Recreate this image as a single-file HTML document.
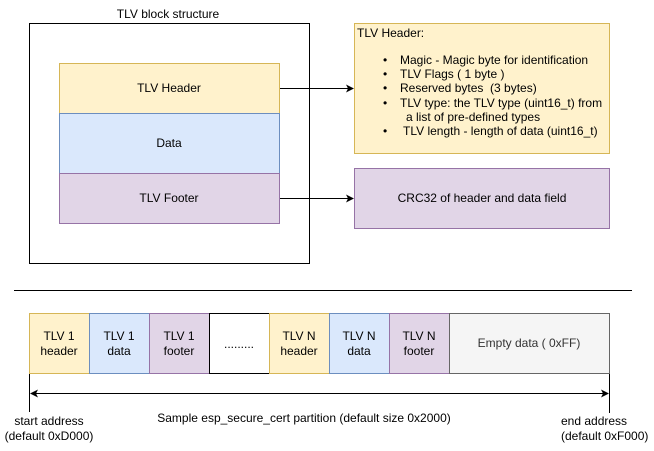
<!DOCTYPE html>
<html><head><meta charset="utf-8"><style>
html,body{margin:0;padding:0;background:#fff;}
svg{display:block;font-family:"Liberation Sans",Arial,sans-serif;font-size:12px;}
</style></head><body>
<svg width="654" height="451" viewBox="0 0 654 451" xmlns="http://www.w3.org/2000/svg">
<defs><marker id="a" markerWidth="8" markerHeight="8" refX="7" refY="4" orient="auto" markerUnits="userSpaceOnUse"><path d="M0,0 L8,4 L0,8 L2,4 Z" fill="#000"/></marker>
<marker id="b" markerWidth="8" markerHeight="8" refX="1" refY="4" orient="auto" markerUnits="userSpaceOnUse"><path d="M8,0 L0,4 L8,8 L6,4 Z" fill="#000"/></marker></defs>
<text x="168" y="18" text-anchor="middle">TLV block structure</text>
<rect x="29.5" y="23.5" width="280" height="240" fill="#fff" stroke="#000"/>
<rect x="59.5" y="63.5" width="220" height="50" fill="#fff2cc" stroke="#d6b656"/>
<rect x="59.5" y="113.5" width="220" height="60" fill="#dae8fc" stroke="#6c8ebf"/>
<rect x="59.5" y="173.5" width="220" height="50" fill="#e1d5e7" stroke="#9673a6"/>
<text x="169" y="92" text-anchor="middle">TLV Header</text>
<text x="169" y="147" text-anchor="middle">Data</text>
<text x="169" y="202" text-anchor="middle">TLV Footer</text>
<line x1="280" y1="88.5" x2="353" y2="88.5" stroke="#000" marker-end="url(#a)"/>
<line x1="280" y1="198.5" x2="353" y2="198.5" stroke="#000" marker-end="url(#a)"/>
<rect x="354.5" y="23.5" width="255" height="130" fill="#fff2cc" stroke="#d6b656"/>
<text x="357" y="37">TLV Header:</text>
<g>
<text x="383" y="64">•</text><text x="400" y="64">Magic - Magic byte for identification</text>
<text x="383" y="78">•</text><text x="400" y="78">TLV Flags ( 1 byte )</text>
<text x="383" y="92">•</text><text x="400" y="92">Reserved bytes &#160;(3 bytes)</text>
<text x="383" y="107">•</text><text x="400" y="107">TLV type: the TLV type (uint16_t) from</text>
<text x="406" y="121">a list of pre-defined types</text>
<text x="383" y="135">•</text><text x="403" y="135">TLV length - length of data (uint16_t)</text>
</g>
<rect x="354.5" y="168.5" width="255" height="60" fill="#e1d5e7" stroke="#9673a6"/>
<text x="482" y="202" text-anchor="middle">CRC32 of header and data field</text>
<line x1="14" y1="290.5" x2="632" y2="290.5" stroke="#000"/>
<rect x="29.5" y="313.5" width="60" height="60" fill="#fff2cc" stroke="#d6b656"/>
<rect x="89.5" y="313.5" width="60" height="60" fill="#dae8fc" stroke="#6c8ebf"/>
<rect x="149.5" y="313.5" width="60" height="60" fill="#e1d5e7" stroke="#9673a6"/>
<rect x="209.5" y="313.5" width="60" height="60" fill="#fff" stroke="#000"/>
<rect x="269.5" y="313.5" width="60" height="60" fill="#fff2cc" stroke="#d6b656"/>
<rect x="329.5" y="313.5" width="60" height="60" fill="#dae8fc" stroke="#6c8ebf"/>
<rect x="389.5" y="313.5" width="60" height="60" fill="#e1d5e7" stroke="#9673a6"/>
<rect x="449.5" y="313.5" width="160" height="60" fill="#f5f5f5" stroke="#666"/>
<g text-anchor="middle">
<text x="59" y="340">TLV 1</text><text x="59" y="355">header</text>
<text x="119" y="340">TLV 1</text><text x="119" y="355">data</text>
<text x="179" y="340">TLV 1</text><text x="179" y="355">footer</text>
<text x="239" y="348">.........</text>
<text x="299" y="340">TLV N</text><text x="299" y="355">header</text>
<text x="359" y="340">TLV N</text><text x="359" y="355">data</text>
<text x="419" y="340">TLV N</text><text x="419" y="355">footer</text>
<text x="529" y="347" fill="#333">Empty data ( 0xFF)</text>
<text x="304" y="422">Sample esp_secure_cert partition (default size 0x2000)</text>
<text x="49" y="425">start address</text><text x="49" y="440">(default 0xD000)</text>
</g>
<line x1="29.5" y1="374" x2="29.5" y2="412" stroke="#000"/>
<line x1="609.5" y1="374" x2="609.5" y2="413" stroke="#000"/>
<line x1="31" y1="393.5" x2="608" y2="393.5" stroke="#000" marker-start="url(#b)" marker-end="url(#a)"/>
<text x="561" y="425">end address</text><text x="561" y="440">(default 0xF000)</text>
</svg>
</body></html>
